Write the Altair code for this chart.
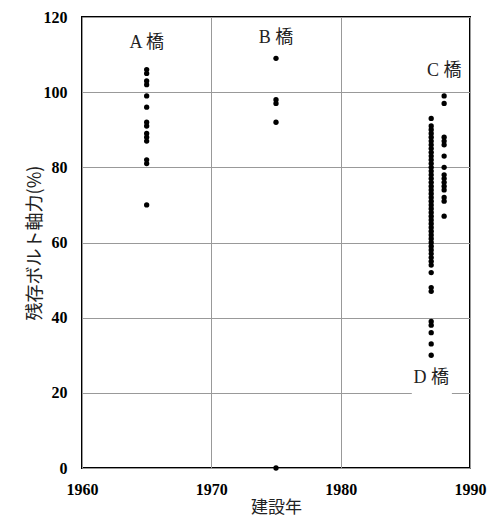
import altair as alt
import pandas as pd

# Data
a_years = 1965
a_vals = [106, 105, 103, 102, 99, 96, 92, 91, 89, 88, 87, 82, 81, 70]
b_years = 1975
b_vals = [109, 98, 97, 92, 0]
c_years = 1988
c_vals = [99, 97, 88, 87, 86, 83, 80, 78, 77, 76, 75, 74, 72, 71, 67]
d_years = 1987
d_vals = [93, 91, 90, 89, 88, 87, 86, 85, 84, 83, 82, 81, 80, 79, 78, 77, 76,
          75, 74, 73, 72, 71, 70, 69, 68, 67, 66, 65, 64, 63, 62, 61, 60, 59,
          58, 57, 56, 55, 54, 52, 48, 47, 39, 38, 36, 33, 30]

label_text = ["A 橋", "B 橋", "C 橋", "D 橋"]
label_x = [1965, 1975, 1988, 1987]
label_y = [113, 114.5, 105.5, 24]

x_ticks = [1960, 1970, 1980, 1990]
y_ticks = [0, 20, 40, 60, 80, 100, 120]

rows = []
for yr, vals in [(a_years, a_vals), (b_years, b_vals), (c_years, c_vals), (d_years, d_vals)]:
    for v in vals:
        rows.append({"year": yr, "val": v})
pts = pd.DataFrame(rows)
labels = pd.DataFrame({"t": label_text, "year": label_x, "val": label_y})
bg = pd.DataFrame({"x1": [1985.5], "x2": [1988.6], "y1": [18], "y2": [30]})

xs = alt.Scale(domain=[1960, 1990], nice=False, zero=False)
ys = alt.Scale(domain=[0, 120], nice=False)

PW, PH = 388, 451

xaxis = alt.Axis(values=x_ticks, format="d", title="建設年", grid=True,
                 labelFont="Liberation Serif", labelFontWeight="bold", labelFontSize=16,
                 labelColor="black", labelPadding=13, ticks=False, domain=False,
                 labelFlush=False, labelOverlap=False,
                 titleFont="Noto Sans CJK JP", titleFontWeight="normal", titleFontSize=17,
                 titleColor="#222", titlePadding=2, gridColor="#999", gridWidth=1)
yaxis = alt.Axis(values=y_ticks, title="残存ボルト軸力(%)", grid=True,
                 labelFont="Liberation Serif", labelFontWeight="bold", labelFontSize=16,
                 labelColor="black", labelPadding=15, ticks=False, domain=False,
                 labelFlush=False, labelOverlap=False,
                 titleFont="Noto Sans CJK JP", titleFontWeight="normal", titleFontSize=18,
                 titleColor="#222", titleX=-47, titleY=PH / 2, titleAngle=-90,
                 titleAlign="center", titleBaseline="middle",
                 gridColor="#999", gridWidth=1)

points = alt.Chart(pts).mark_circle(size=28, color="black", opacity=1, clip=False).encode(
    x=alt.X("year:Q", scale=xs, axis=xaxis),
    y=alt.Y("val:Q", scale=ys, axis=yaxis),
)

rect = alt.Chart(bg).mark_rect(color="white").encode(
    x=alt.X("x1:Q", scale=xs), x2="x2:Q",
    y=alt.Y("y1:Q", scale=ys), y2="y2:Q",
)

text = alt.Chart(labels).mark_text(font="Liberation Serif, Noto Sans CJK JP", fontSize=18,
                                   color="#222", align="center", baseline="middle").encode(
    x=alt.X("year:Q", scale=xs), y=alt.Y("val:Q", scale=ys), text="t:N"
)

chart = alt.layer(rect, points, text).properties(
    width=PW, height=PH,
    autosize=alt.AutoSizeParams(type="none"),
    padding={"left": 74, "top": 9, "right": 17, "bottom": 51},
).configure_view(stroke="black", strokeWidth=2)

chart.save("out.html", embed_options={"renderer": "svg", "actions": False})
